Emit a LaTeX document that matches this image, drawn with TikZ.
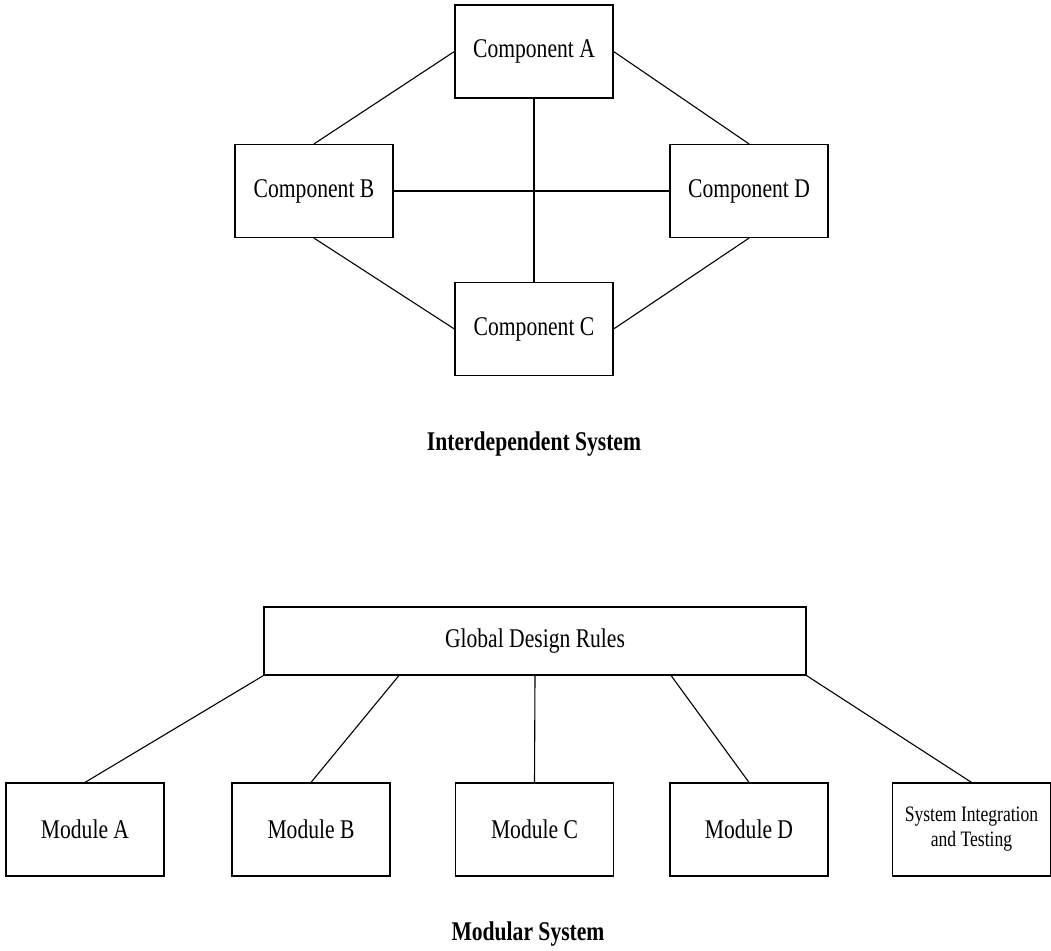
\documentclass[tikz,border=0pt]{standalone}
\usepackage{fontspec}
\setmainfont[FakeStretch=0.8]{Liberation Serif}
\tikzset{
  unit/.style={draw,line width=1.2pt,minimum width=158pt,minimum height=93pt,inner sep=0pt,
    font=\fontsize{27}{30}\selectfont},
  caption/.style={font=\fontsize{27}{30}\selectfont\bfseries},
  link/.style={line width=1.1pt}
}
\begin{document}
\begin{tikzpicture}[x=1pt,y=1pt]
  \useasboundingbox (0,0) rectangle (1051,-950);
  % interdependent system
  \node[unit] (compA) at (534,-51.5) {Component A};
  \node[unit] (compB) at (314,-191) {Component B};
  \node[unit] (compD) at (749,-191) {Component D};
  \node[unit] (compC) at (534,-329) {Component C};
  \draw[link] (compA.west) -- (compB.north);
  \draw[link] (compA.east) -- (compD.north);
  \draw[link] (compB.south) -- (compC.west);
  \draw[link] (compD.south) -- (compC.east);
  \draw[link] (compA.south) -- (compC.north);
  \draw[link] (compB.east) -- (compD.west);
  \node[caption] (capA) at (534,-444) {Interdependent System};
  % modular system
  \node[unit,minimum width=542pt,minimum height=68pt] (rules) at (535,-641) {Global Design Rules};
  \node[unit] (modA) at (85,-829.5) {Module A};
  \node[unit] (modB) at (311,-829.5) {Module B};
  \node[unit] (modC) at (534.5,-829.5) {Module C};
  \node[unit] (modD) at (749,-829.5) {Module D};
  \node[unit,align=center,font=\fontsize{22}{25}\selectfont] (sysint) at (971.5,-829.5) {System Integration\\and Testing};
  \draw[link] (rules.south west) -- (modA.north);
  \draw[link] ([xshift=135.5pt]rules.south west) -- (modB.north);
  \draw[link] (rules.south) -- (modC.north);
  \draw[link] ([xshift=-135.5pt]rules.south east) -- (modD.north);
  \draw[link] (rules.south east) -- (sysint.north);
  \node[caption] (capB) at (528,-934) {Modular System};
\end{tikzpicture}
\end{document}
